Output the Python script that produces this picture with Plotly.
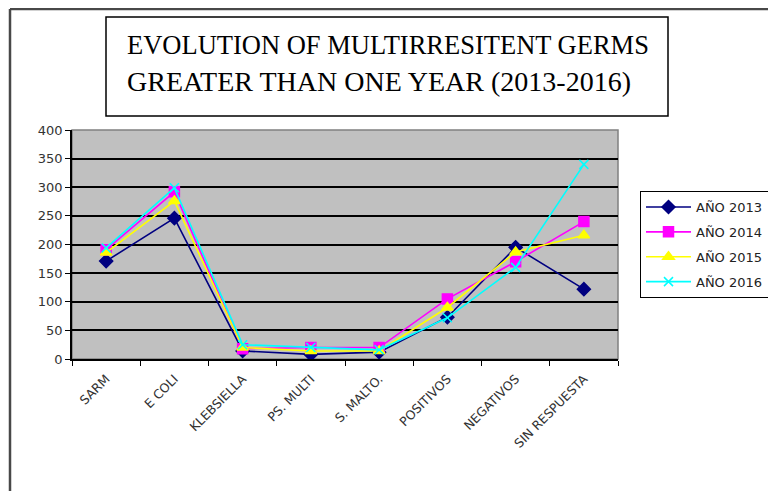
import plotly.graph_objects as go

categories = ["SARM", "E COLI", "KLEBSIELLA", "PS. MULTI", "S. MALTO.",
              "POSITIVOS", "NEGATIVOS", "SIN RESPUESTA"]
y2013 = [171, 246, 14, 8, 12, 73, 195, 122]
y2014 = [191, 292, 18, 20, 20, 105, 170, 240]
y2015 = [186, 276, 20, 14, 14, 90, 187, 216]
y2016 = [194, 299, 25, 20, 16, 72, 160, 340]

series = [
    ("AÑO 2013", y2013, "#000080", "diamond"),
    ("AÑO 2014", y2014, "#FF00FF", "square"),
    ("AÑO 2015", y2015, "#FFFF00", "triangle-up"),
    ("AÑO 2016", y2016, "#00FFFF", "x-thin"),
]

# page body has an 8px margin, so the figure is drawn 8px smaller and offset
OFF = 8
W, H = 776 - OFF, 491 - OFF


def px(x):
    return (x - OFF) / W


def py(y):
    return 1 - (y - OFF) / H


fig = go.Figure()
for name, vals, col, sym in series:
    fig.add_trace(go.Scatter(
        x=categories, y=vals, name=name, mode="lines+markers",
        legendgroup=name,
        line=dict(color=col, width=1.6),
        marker=dict(symbol=sym, size=10 if sym != "x-thin" else 9, color=col,
                    line=dict(color=col, width=1.5)),
    ))

fig.update_layout(
    width=W, height=H,
    margin=dict(l=0, r=0, t=0, b=0),
    paper_bgcolor="white",
    plot_bgcolor="#c0c0c0",
    font=dict(family="DejaVu Sans", size=13, color="#333333"),
    xaxis=dict(
        domain=[px(72), px(618)], automargin=False,
        tickangle=-45, tickson="boundaries", ticks="outside", ticklen=5,
        tickcolor="black", showline=True, linecolor="black", linewidth=1.5,
        showgrid=False, tickfont=dict(size=12.5, color="#333333"),
        ticklabelstandoff=6, range=[-0.5, 7.5],
    ),
    yaxis=dict(
        domain=[py(359), py(130)], automargin=False,
        range=[0, 400], dtick=50, ticks="outside", ticklen=5, tickcolor="black",
        showline=True, linecolor="black", linewidth=1.5,
        gridcolor="black", gridwidth=1.8, zeroline=False,
        tickfont=dict(size=13, color="#333333"),
    ),
    showlegend=True,
    legend=dict(
        x=px(640), y=py(191), xanchor="left", yanchor="top",
        bordercolor="black", borderwidth=1, bgcolor="white",
        font=dict(size=13, color="#222222"), tracegroupgap=5,
        itemwidth=45,
    ),
)

# outer chart frame and plot border
fig.add_shape(type="line", xref="paper", yref="paper",
              x0=px(10), x1=1, y0=py(9), y1=py(9),
              line=dict(color="#484848", width=2.5))
fig.add_shape(type="line", xref="paper", yref="paper",
              x0=px(10), x1=px(10), y0=0, y1=py(9),
              line=dict(color="#484848", width=2.5))
fig.add_shape(type="rect", xref="paper", yref="paper",
              x0=px(72), x1=px(618), y0=py(359), y1=py(130),
              line=dict(color="#808080", width=1.5), layer="below")

# title box
fig.add_shape(type="rect", xref="paper", yref="paper",
              x0=px(106), x1=px(668), y0=py(116), y1=py(17),
              line=dict(color="black", width=1.5), fillcolor="white")
fig.add_annotation(
    xref="paper", yref="paper", x=px(125), y=py(45),
    xanchor="left", yanchor="middle", showarrow=False,
    text="EVOLUTION OF MULTIRRESITENT GERMS",
    font=dict(family="Liberation Serif", size=26.5, color="black"),
)
fig.add_annotation(
    xref="paper", yref="paper", x=px(125), y=py(81),
    xanchor="left", yanchor="middle", showarrow=False,
    text="GREATER THAN ONE YEAR (2013-2016)",
    font=dict(family="Liberation Serif", size=28, color="black"),
)

fig.write_html("out.html")
